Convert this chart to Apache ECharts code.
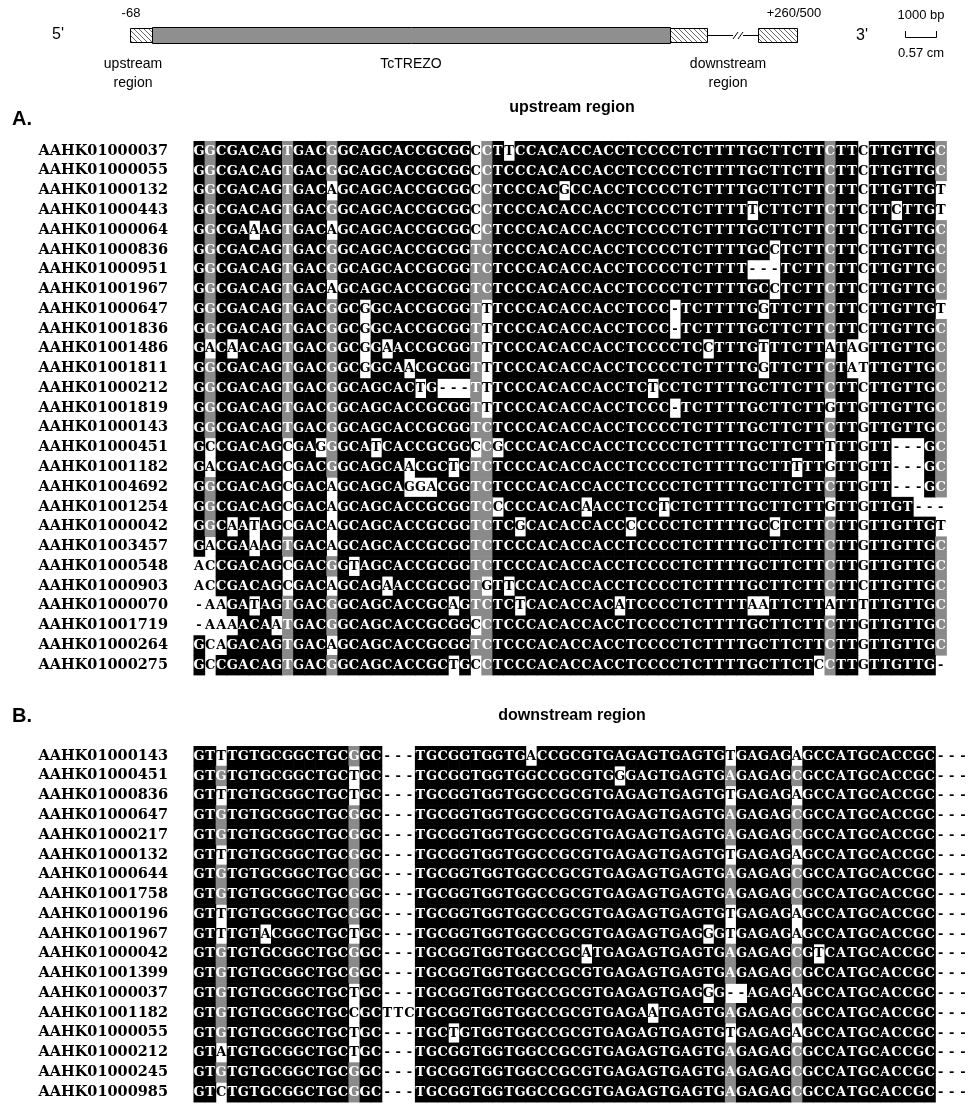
<!DOCTYPE html>
<html><head><meta charset="utf-8">
<script src="https://cdn.jsdelivr.net/npm/echarts@6/dist/echarts.min.js"></script>
<style>html,body{margin:0;padding:0;background:#fff}#c{width:970px;height:1106px}</style>
</head><body><div id="c"></div>
<script>
// ---------- data ----------
const upstreamNames = ['AAHK01000037','AAHK01000055','AAHK01000132','AAHK01000443','AAHK01000064','AAHK01000836','AAHK01000951','AAHK01001967','AAHK01000647','AAHK01001836','AAHK01001486','AAHK01001811','AAHK01000212','AAHK01001819','AAHK01000143','AAHK01000451','AAHK01001182','AAHK01004692','AAHK01001254','AAHK01000042','AAHK01003457','AAHK01000548','AAHK01000903','AAHK01000070','AAHK01001719','AAHK01000264','AAHK01000275'];
const upstreamSeqs = [
'GGCGACAGTGACGGCAGCACCGCGGCCTTCCACACCACCTCCCCTCTTTTGCTTCTTCTTCTTGTTGC',
'GGCGACAGTGACGGCAGCACCGCGGCCTCCCACACCACCTCCCCTCTTTTGCTTCTTCTTCTTGTTGC',
'GGCGACAGTGACAGCAGCACCGCGGCCTCCCACGCCACCTCCCCTCTTTTGCTTCTTCTTCTTGTTGT',
'GGCGACAGTGACGGCAGCACCGCGGCCTCCCACACCACCTCCCCTCTTTTTCTTCTTCTTCTTCTTGT',
'GGCGAAAGTGACAGCAGCACCGCGGCCTCCCACACCACCTCCCCTCTTTTGCTTCTTCTTCTTGTTGC',
'GGCGACAGTGACGGCAGCACCGCGGTCTCCCACACCACCTCCCCTCTTTTGCCTCTTCTTCTTGTTGC',
'GGCGACAGTGACGGCAGCACCGCGGTCTCCCACACCACCTCCCCTCTTTT---TCTTCTTCTTGTTGC',
'GGCGACAGTGACAGCAGCACCGCGGTCTCCCACACCACCTCCCCTCTTTTGCCTCTTCTTCTTGTTGC',
'GGCGACAGTGACGGCGGCACCGCGGTTTCCCACACCACCTCCC-TCTTTTGGTTCTTCTTCTTGTTGT',
'GGCGACAGTGACGGCGGCACCGCGGTTTCCCACACCACCTCCC-TCTTTTGCTTCTTCTTCTTGTTGC',
'GACAACAGTGACGGCGGAACCGCGGTTTCCCACACCACCTCCCCTCCTTTGTTTCTTATAGTTGTTGC',
'GGCGACAGTGACGGCGGCAACGCGGTTTCCCACACCACCTCCCCTCTTTTGGTTCTTCTATTTGTTGC',
'GGCGACAGTGACGGCAGCACTG---TTTCCCACACCACCTCTCCTCTTTTGCTTCTTCTTCTTGTTGC',
'GGCGACAGTGACGGCAGCACCGCGGTTTCCCACACCACCTCCC-TCTTTTGCTTCTTGTTGTTGTTGC',
'GGCGACAGTGACGGCAGCACCGCGGTCTCCCACACCACCTCCCCTCTTTTGCTTCTTCTTGTTGTTGC',
'GCCGACAGCGAGGGCATCACCGCGGCCGCCCACACCACCTCCCCTCTTTTGCTTCTTTTTGTT---GC',
'GACGACAGCGACGGCAGCAACGCTGTCTCCCACACCACCTCCCCTCTTTTGCTTTTTGTTGTT---GC',
'GGCGACAGCGACAGCAGCAGGACGGTCTCCCACACCACCTCCCCTCTTTTGCTTCTTCTTGTT---GC',
'GGCGACAGCGACAGCAGCACCGCGGTCCCCCACACAACCTCCTCTCTTTTGCTTCTTGTTGTTGT---',
'GGCAATAGCGACAGCAGCACCGCGGTCTCGCACACCACCCCCCCTCTTTTGCCTCTTCTTGTTGTTGT',
'GACGAAAGTGACAGCAGCACCGCGGTCTCCCACACCACCTCCCCTCTTTTGCTTCTTCTTGTTGTTGC',
'ACCGACAGCGACGGTAGCACCGCGGTCTCCCACACCACCTCCCCTCTTTTGCTTCTTCTTGTTGTTGC',
'ACCGACAGCGACAGCAGAACCGCGGTGTTCCACACCACCTCCCCTCTTTTGCTTCTTCTTCTTGTTGC',
'-AAGATAGTGACGGCAGCACCGCAGTCTCTCACACCACATCCCCTCTTTTAATTCTTATTTTTGTTGC',
'-AAAACAATGACGGCAGCACCGCGGCCTCCCACACCACCTCCCCTCTTTTGCTTCTTCTTGTTGTTGC',
'GCAGACAGTGACAGCAGCACCGCGGTCTCCCACACCACCTCCCCTCTTTTGCTTCTTCTTGTTGTTGC',
'GCCGACAGTGACGGCAGCACCGCTGCCTCCCACACCACCTCCCCTCTTTTGCTTCTCCTTGTTGTTG-'
];
const downstreamNames = ['AAHK01000143','AAHK01000451','AAHK01000836','AAHK01000647','AAHK01000217','AAHK01000132','AAHK01000644','AAHK01001758','AAHK01000196','AAHK01001967','AAHK01000042','AAHK01001399','AAHK01000037','AAHK01001182','AAHK01000055','AAHK01000212','AAHK01000245','AAHK01000985'];
const downstreamSeqs = [
'GTTTGTGCGGCTGCGGC---TGCGGTGGTGACCGCGTGAGAGTGAGTGTGAGAGAGCCATGCACCGC---',
'GTGTGTGCGGCTGCTGC---TGCGGTGGTGGCCGCGTGGGAGTGAGTGAGAGAGCGCCATGCACCGC---',
'GTTTGTGCGGCTGCTGC---TGCGGTGGTGGCCGCGTGAGAGTGAGTGTGAGAGAGCCATGCACCGC---',
'GTGTGTGCGGCTGCGGC---TGCGGTGGTGGCCGCGTGAGAGTGAGTGAGAGAGCGCCATGCACCGC---',
'GTGTGTGCGGCTGCGGC---TGCGGTGGTGGCCGCGTGAGAGTGAGTGAGAGAGCGCCATGCACCGC---',
'GTTTGTGCGGCTGCGGC---TGCGGTGGTGGCCGCGTGAGAGTGAGTGTGAGAGAGCCATGCACCGC---',
'GTGTGTGCGGCTGCGGC---TGCGGTGGTGGCCGCGTGAGAGTGAGTGAGAGAGCGCCATGCACCGC---',
'GTGTGTGCGGCTGCGGC---TGCGGTGGTGGCCGCGTGAGAGTGAGTGAGAGAGCGCCATGCACCGC---',
'GTTTGTGCGGCTGCGGC---TGCGGTGGTGGCCGCGTGAGAGTGAGTGTGAGAGAGCCATGCACCGC---',
'GTTTGTACGGCTGCTGC---TGCGGTGGTGGCCGCGTGAGAGTGAGGGTGAGAGAGCCATGCACCGC---',
'GTGTGTGCGGCTGCGGC---TGCGGTGGTGGCCGCATGAGAGTGAGTGAGAGAGCGTCATGCACCGC---',
'GTGTGTGCGGCTGCGGC---TGCGGTGGTGGCCGCGTGAGAGTGAGTGAGAGAGCGCCATGCACCGC---',
'GTGTGTGCGGCTGCTGC---TGCGGTGGTGGCCGCGTGAGAGTGAGGG--AGAGAGCCATGCACCGC---',
'GTGTGTGCGGCTGCCGCTTCTGCGGTGGTGGCCGCGTGAGAATGAGTGAGAGAGCGCCATGCACCGC---',
'GTGTGTGCGGCTGCTGC---TGCTGTGGTGGCCGCGTGAGAGTGAGTGTGAGAGAGCCATGCACCGC---',
'GTATGTGCGGCTGCTGC---TGCGGTGGTGGCCGCGTGAGAGTGAGTGAGAGAGCGCCATGCACCGC---',
'GTGTGTGCGGCTGCGGC---TGCGGTGGTGGCCGCGTGAGAGTGAGTGAGAGAGCGCCATGCACCGC---',
'GTCTGTGCGGCTGCGGC---TGCGGTGGTGGCCGCGTGAGAGTGAGTGAGAGAGCGCCATGCACCGC---'
];
// shading thresholds (fraction of identical residues in a column)
const blackThreshold = 0.8;
const grayThreshold = 0.5;

// ---------- build ----------
const SEQ_FONT = 'bold 13px "DejaVu Serif"';
const GRAY = '#8a8a8a';

function buildCells(seqs){
  const n = seqs.length, L = seqs[0].length;
  const colCls = [], colCons = [];
  for (let c = 0; c < L; c++) {
    const cnt = {};
    seqs.forEach(s => { const ch = s[c]; if (ch !== '-') cnt[ch] = (cnt[ch] || 0) + 1; });
    let best = null, bc = 0;
    for (const k in cnt) if (cnt[k] > bc) { bc = cnt[k]; best = k; }
    const f = bc / n;
    colCons.push(best);
    colCls.push(f >= blackThreshold ? 'k' : (f >= grayThreshold ? 'g' : 'w'));
  }
  const data = [], meta = [];
  seqs.forEach((s, r) => {
    for (let c = 0; c < L; c++) {
      data.push([c, r]);
      const sh = (s[c] === colCons[c] && colCls[c] !== 'w') ? colCls[c] : 'w';
      meta.push({ch: s[c], sh});
    }
  });
  return {data, meta, L};
}
function makeRender(meta){
  return function(params, api){
    const m = meta[params.dataIndex];
    const p = api.coord([api.value(0), api.value(1)]);
    const s = api.size([1, 1]);
    const children = [];
    if (m.sh !== 'w') {
      children.push({type: 'rect', z2: 0,
        shape: {x: p[0] - s[0] / 2, y: p[1] - s[1] / 2, width: s[0] + 0.6, height: s[1] + 0.6},
        style: {fill: m.sh === 'k' ? '#000' : GRAY}});
    }
    children.push({type: 'text', z2: 10,
      style: {text: m.ch, x: p[0], y: p[1] + 0.5, align: 'center', verticalAlign: 'middle',
        fill: m.sh === 'w' ? '#000' : '#fff', font: SEQ_FONT}});
    return {type: 'group', children};
  };
}
const up = buildCells(upstreamSeqs);
const dn = buildCells(downstreamSeqs);
const colsOf = L => Array.from({length: L}, (_, i) => String(i + 1));

// hatch pattern
const pc = document.createElement('canvas');
pc.width = 5; pc.height = 5;
const g2 = pc.getContext('2d');
g2.fillStyle = '#fff'; g2.fillRect(0, 0, 5, 5);
g2.strokeStyle = '#666'; g2.lineWidth = 1;
g2.beginPath(); g2.moveTo(0, 0); g2.lineTo(5, 5); g2.moveTo(-1, 4); g2.lineTo(1, 6); g2.moveTo(4, -1); g2.lineTo(6, 1); g2.stroke();
const hatch = {image: pc, repeat: 'repeat'};

const CELL_W = 11.07, ROW_H = 19.77;
const yLabel = {show: true, align: 'left', margin: 155, fontFamily: 'DejaVu Serif', fontWeight: 'bold', fontSize: 14.5, color: '#000'};
const SANS = '"Liberation Sans", Arial, sans-serif';

const chart = echarts.init(document.getElementById('c'), null, {renderer: 'canvas'});
chart.setOption({
  animation: false,
  backgroundColor: '#fff',
  grid: [
    {left: 193.5, top: 141, width: CELL_W * up.L, height: ROW_H * upstreamSeqs.length},
    {left: 193.5, top: 746, width: CELL_W * dn.L, height: ROW_H * downstreamSeqs.length}
  ],
  xAxis: [
    {type: 'category', gridIndex: 0, data: colsOf(up.L), show: false},
    {type: 'category', gridIndex: 1, data: colsOf(dn.L), show: false}
  ],
  yAxis: [
    {type: 'category', gridIndex: 0, data: upstreamNames, inverse: true, axisLine: {show: false}, axisTick: {show: false}, axisLabel: yLabel},
    {type: 'category', gridIndex: 1, data: downstreamNames, inverse: true, axisLine: {show: false}, axisTick: {show: false}, axisLabel: yLabel}
  ],
  series: [
    {type: 'custom', xAxisIndex: 0, yAxisIndex: 0, data: up.data, renderItem: makeRender(up.meta), progressive: 0, silent: true},
    {type: 'custom', xAxisIndex: 1, yAxisIndex: 1, data: dn.data, renderItem: makeRender(dn.meta), progressive: 0, silent: true}
  ],
  graphic: [
    // gene diagram
    {type: 'text', left: 52, top: 27, style: {text: "5'", font: '16px ' + SANS, fill: '#000'}},
    {type: 'rect', shape: {x: 130.5, y: 28.5, width: 22, height: 14}, style: {fill: hatch, stroke: '#000', lineWidth: 1}},
    {type: 'rect', shape: {x: 152.5, y: 27.5, width: 518, height: 16}, style: {fill: '#8f8f8f', stroke: '#000', lineWidth: 1}},
    {type: 'rect', shape: {x: 670.5, y: 28.5, width: 37, height: 14}, style: {fill: hatch, stroke: '#000', lineWidth: 1}},
    {type: 'line', shape: {x1: 707.5, y1: 35.5, x2: 733, y2: 35.5}, style: {stroke: '#000', lineWidth: 1}},
    {type: 'line', shape: {x1: 733, y1: 39, x2: 738, y2: 32}, style: {stroke: '#000', lineWidth: 1}},
    {type: 'line', shape: {x1: 738, y1: 39, x2: 743, y2: 32}, style: {stroke: '#000', lineWidth: 1}},
    {type: 'line', shape: {x1: 743, y1: 35.5, x2: 758, y2: 35.5}, style: {stroke: '#000', lineWidth: 1}},
    {type: 'rect', shape: {x: 758.5, y: 28.5, width: 39, height: 14}, style: {fill: hatch, stroke: '#000', lineWidth: 1}},
    {type: 'text', x: 131, y: 13, style: {text: '-68', font: '13px ' + SANS, fill: '#000', align: 'center', verticalAlign: 'middle'}},
    {type: 'text', x: 794, y: 13, style: {text: '+260/500', font: '13px ' + SANS, fill: '#000', align: 'center', verticalAlign: 'middle'}},
    {type: 'text', x: 862, y: 36, style: {text: "3'", font: '16px ' + SANS, fill: '#000', align: 'center', verticalAlign: 'middle'}},
    {type: 'text', x: 921, y: 15, style: {text: '1000 bp', font: '13px ' + SANS, fill: '#000', align: 'center', verticalAlign: 'middle'}},
    {type: 'polyline', shape: {points: [[905.5, 31], [905.5, 37.5], [936.5, 37.5], [936.5, 31]]}, style: {stroke: '#000', lineWidth: 1, fill: null}},
    {type: 'text', x: 921, y: 53, style: {text: '0.57 cm', font: '13px ' + SANS, fill: '#000', align: 'center', verticalAlign: 'middle'}},
    {type: 'text', x: 133, y: 64, style: {text: 'upstream', font: '14px ' + SANS, fill: '#000', align: 'center', verticalAlign: 'middle'}},
    {type: 'text', x: 133, y: 83, style: {text: 'region', font: '14px ' + SANS, fill: '#000', align: 'center', verticalAlign: 'middle'}},
    {type: 'text', x: 411, y: 64, style: {text: 'TcTREZO', font: '14px ' + SANS, fill: '#000', align: 'center', verticalAlign: 'middle'}},
    {type: 'text', x: 728, y: 64, style: {text: 'downstream', font: '14px ' + SANS, fill: '#000', align: 'center', verticalAlign: 'middle'}},
    {type: 'text', x: 728, y: 83, style: {text: 'region', font: '14px ' + SANS, fill: '#000', align: 'center', verticalAlign: 'middle'}},
    // panel labels
    {type: 'text', x: 12, y: 119, style: {text: 'A.', font: 'bold 20px ' + SANS, fill: '#000', align: 'left', verticalAlign: 'middle'}},
    {type: 'text', x: 572, y: 108, style: {text: 'upstream region', font: 'bold 16px ' + SANS, fill: '#000', align: 'center', verticalAlign: 'middle'}},
    {type: 'text', x: 12, y: 716, style: {text: 'B.', font: 'bold 20px ' + SANS, fill: '#000', align: 'left', verticalAlign: 'middle'}},
    {type: 'text', x: 572, y: 716, style: {text: 'downstream region', font: 'bold 16px ' + SANS, fill: '#000', align: 'center', verticalAlign: 'middle'}}
  ]
});
</script>
</body></html>
